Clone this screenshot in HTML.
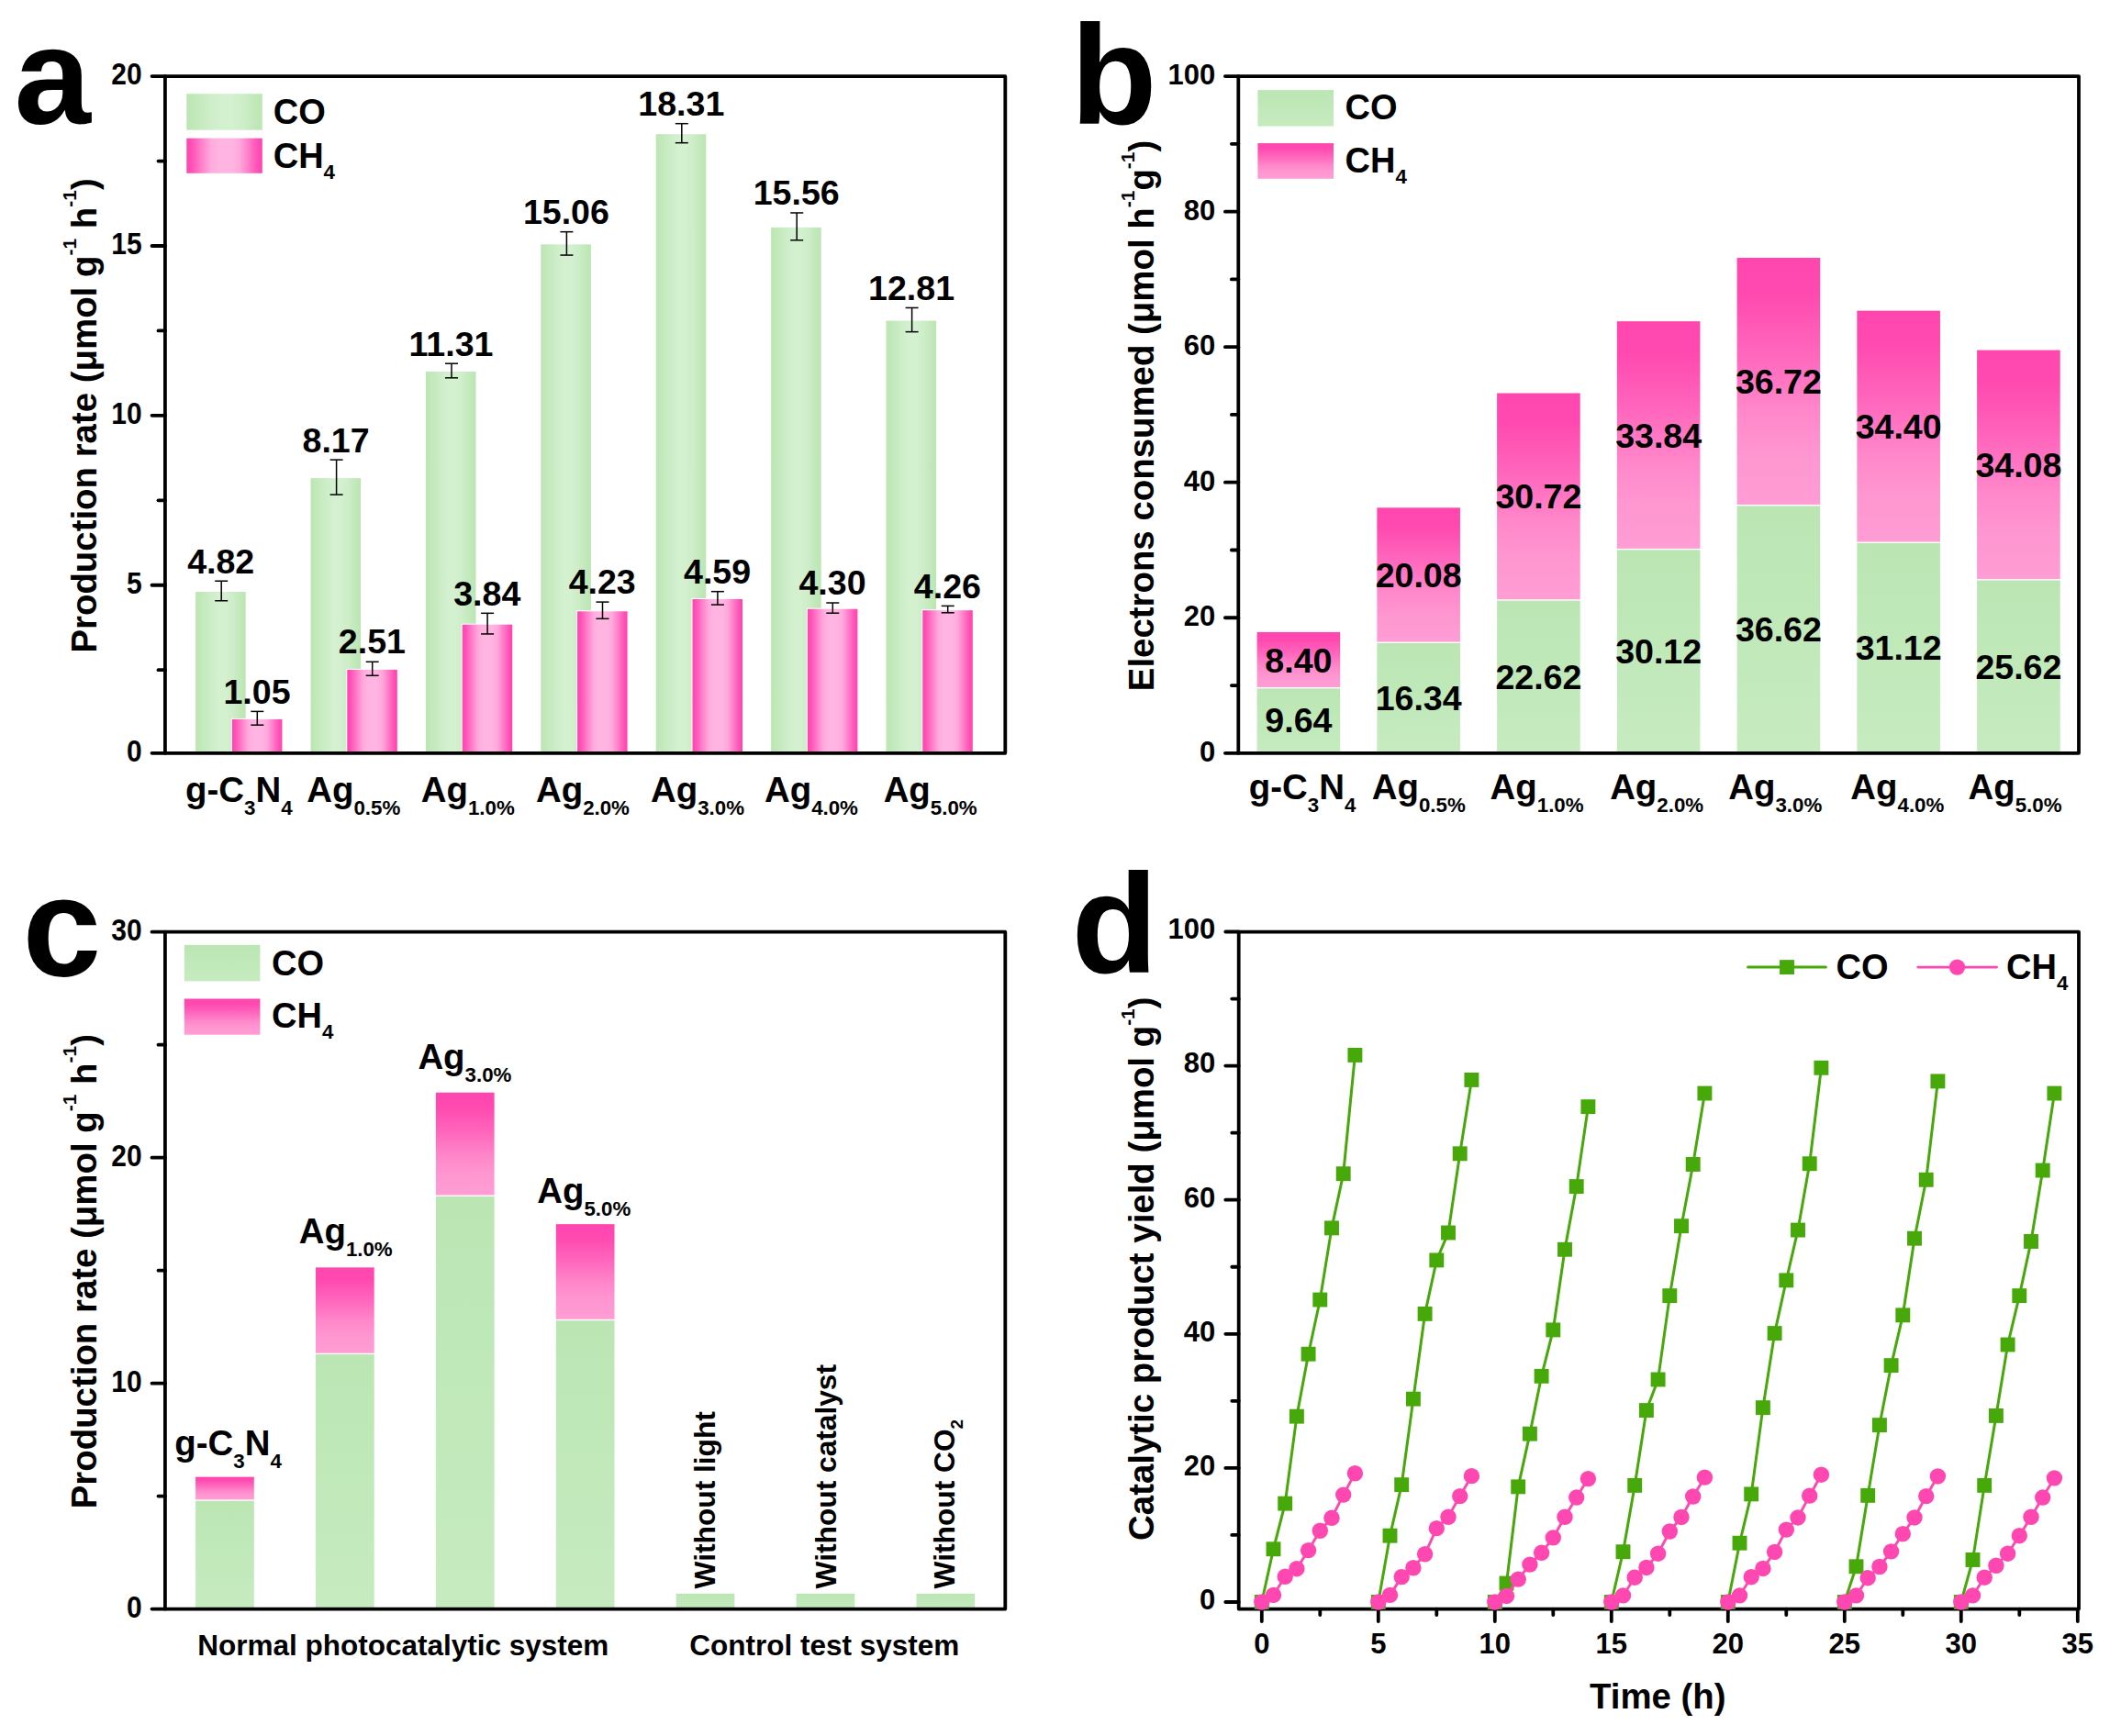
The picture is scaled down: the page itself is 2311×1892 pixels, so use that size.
<!DOCTYPE html>
<html lang="en"><head><meta charset="utf-8"><title>Photocatalytic CO2 reduction figure</title>
<style>html,body{margin:0;padding:0;background:#fff}svg{display:block}text{font-family:'Liberation Sans', Arial, Helvetica, sans-serif;font-weight:700;fill:#000}</style>
</head><body>
<svg xmlns="http://www.w3.org/2000/svg" width="2311" height="1892" viewBox="0 0 2311 1892">
<defs>
<linearGradient id="gh" x1="0" x2="1" y1="0" y2="0"><stop offset="0" stop-color="#BCE6B3"/><stop offset="0.1" stop-color="#C1E8B9"/><stop offset="0.3" stop-color="#CDEDC8"/><stop offset="0.45" stop-color="#D3F0CF"/><stop offset="0.6" stop-color="#D3F0CF"/><stop offset="0.75" stop-color="#CDEDC8"/><stop offset="0.9" stop-color="#C1E8B9"/><stop offset="1" stop-color="#BCE6B3"/></linearGradient>
<linearGradient id="ph" x1="0" x2="1" y1="0" y2="0"><stop offset="0" stop-color="#FF45B0"/><stop offset="0.06" stop-color="#FF4FB5"/><stop offset="0.32" stop-color="#FFAADD"/><stop offset="0.42" stop-color="#FFB4E2"/><stop offset="0.6" stop-color="#FFB4E2"/><stop offset="0.7" stop-color="#FFA8DC"/><stop offset="0.94" stop-color="#FF4FB5"/><stop offset="1" stop-color="#FF45B0"/></linearGradient>
<linearGradient id="pv" x1="0" x2="0" y1="0" y2="1"><stop offset="0" stop-color="#FF46AF"/><stop offset="0.14" stop-color="#FF49B0"/><stop offset="0.40" stop-color="#FF68BD"/><stop offset="0.62" stop-color="#FF87CA"/><stop offset="0.80" stop-color="#FF96D1"/><stop offset="1" stop-color="#FF9DD5"/></linearGradient>
<linearGradient id="gv" x1="0" x2="0" y1="0" y2="1"><stop offset="0" stop-color="#BBE6B3"/><stop offset="1" stop-color="#C6EBC0"/></linearGradient>
</defs>
<rect width="2311" height="1892" fill="#fff"/>
<g id="panel-a">
<rect x="213.1" y="644.98" width="54.6" height="175.82" fill="url(#gh)"/>
<rect x="338.5" y="521.11" width="54.6" height="299.69" fill="url(#gh)"/>
<rect x="463.9" y="405.01" width="54.6" height="415.79" fill="url(#gh)"/>
<rect x="589.3" y="266.36" width="54.6" height="554.44" fill="url(#gh)"/>
<rect x="714.7" y="146.19" width="54.6" height="674.61" fill="url(#gh)"/>
<rect x="840.1" y="247.87" width="54.6" height="572.93" fill="url(#gh)"/>
<rect x="965.5" y="349.55" width="54.6" height="471.25" fill="url(#gh)"/>
<rect x="252" y="782.88" width="55.4" height="37.92" fill="#fff"/>
<rect x="252.9" y="783.88" width="54.5" height="36.92" fill="url(#ph)"/>
<rect x="377.4" y="728.89" width="55.4" height="91.91" fill="#fff"/>
<rect x="378.3" y="729.89" width="54.5" height="90.91" fill="url(#ph)"/>
<rect x="502.8" y="679.72" width="55.4" height="141.08" fill="#fff"/>
<rect x="503.7" y="680.72" width="54.5" height="140.08" fill="url(#ph)"/>
<rect x="628.2" y="665.3" width="55.4" height="155.5" fill="#fff"/>
<rect x="629.1" y="666.3" width="54.5" height="154.5" fill="url(#ph)"/>
<rect x="753.6" y="651.98" width="55.4" height="168.82" fill="#fff"/>
<rect x="754.5" y="652.98" width="54.5" height="167.82" fill="url(#ph)"/>
<rect x="879" y="662.71" width="55.4" height="158.09" fill="#fff"/>
<rect x="879.9" y="663.71" width="54.5" height="157.09" fill="url(#ph)"/>
<rect x="1004.4" y="664.19" width="55.4" height="156.61" fill="#fff"/>
<rect x="1005.3" y="665.19" width="54.5" height="155.61" fill="url(#ph)"/>
<line x1="241.2" y1="633.23" x2="241.2" y2="654.73" stroke="#000" stroke-width="1.5"/>
<line x1="234.2" y1="633.23" x2="248.2" y2="633.23" stroke="#000" stroke-width="1.5"/>
<line x1="234.2" y1="654.73" x2="248.2" y2="654.73" stroke="#000" stroke-width="1.5"/>
<text x="240.7" y="624.63" font-size="37.6" text-anchor="middle">4.82</text>
<line x1="280.3" y1="775.38" x2="280.3" y2="790.18" stroke="#000" stroke-width="1.5"/>
<line x1="273.3" y1="775.38" x2="287.3" y2="775.38" stroke="#000" stroke-width="1.5"/>
<line x1="273.3" y1="790.18" x2="287.3" y2="790.18" stroke="#000" stroke-width="1.5"/>
<text x="280" y="766.58" font-size="37.6" text-anchor="middle">1.05</text>
<line x1="366.6" y1="501.11" x2="366.6" y2="539.11" stroke="#000" stroke-width="1.5"/>
<line x1="359.6" y1="501.11" x2="373.6" y2="501.11" stroke="#000" stroke-width="1.5"/>
<line x1="359.6" y1="539.11" x2="373.6" y2="539.11" stroke="#000" stroke-width="1.5"/>
<text x="366.1" y="492.51" font-size="37.6" text-anchor="middle">8.17</text>
<line x1="405.7" y1="721.29" x2="405.7" y2="736.29" stroke="#000" stroke-width="1.5"/>
<line x1="398.7" y1="721.29" x2="412.7" y2="721.29" stroke="#000" stroke-width="1.5"/>
<line x1="398.7" y1="736.29" x2="412.7" y2="736.29" stroke="#000" stroke-width="1.5"/>
<text x="405.4" y="712.49" font-size="37.6" text-anchor="middle">2.51</text>
<line x1="492" y1="396.21" x2="492" y2="411.81" stroke="#000" stroke-width="1.5"/>
<line x1="485" y1="396.21" x2="499" y2="396.21" stroke="#000" stroke-width="1.5"/>
<line x1="485" y1="411.81" x2="499" y2="411.81" stroke="#000" stroke-width="1.5"/>
<text x="491.5" y="387.61" font-size="37.6" text-anchor="middle">11.31</text>
<line x1="531.1" y1="668.32" x2="531.1" y2="690.92" stroke="#000" stroke-width="1.5"/>
<line x1="524.1" y1="668.32" x2="538.1" y2="668.32" stroke="#000" stroke-width="1.5"/>
<line x1="524.1" y1="690.92" x2="538.1" y2="690.92" stroke="#000" stroke-width="1.5"/>
<text x="530.8" y="659.52" font-size="37.6" text-anchor="middle">3.84</text>
<line x1="617.4" y1="252.66" x2="617.4" y2="278.06" stroke="#000" stroke-width="1.5"/>
<line x1="610.4" y1="252.66" x2="624.4" y2="252.66" stroke="#000" stroke-width="1.5"/>
<line x1="610.4" y1="278.06" x2="624.4" y2="278.06" stroke="#000" stroke-width="1.5"/>
<text x="616.9" y="244.06" font-size="37.6" text-anchor="middle">15.06</text>
<line x1="656.5" y1="656.1" x2="656.5" y2="674.3" stroke="#000" stroke-width="1.5"/>
<line x1="649.5" y1="656.1" x2="663.5" y2="656.1" stroke="#000" stroke-width="1.5"/>
<line x1="649.5" y1="674.3" x2="663.5" y2="674.3" stroke="#000" stroke-width="1.5"/>
<text x="656.2" y="647.3" font-size="37.6" text-anchor="middle">4.23</text>
<line x1="742.8" y1="134.69" x2="742.8" y2="155.69" stroke="#000" stroke-width="1.5"/>
<line x1="735.8" y1="134.69" x2="749.8" y2="134.69" stroke="#000" stroke-width="1.5"/>
<line x1="735.8" y1="155.69" x2="749.8" y2="155.69" stroke="#000" stroke-width="1.5"/>
<text x="742.3" y="126.09" font-size="37.6" text-anchor="middle">18.31</text>
<line x1="781.9" y1="644.68" x2="781.9" y2="659.08" stroke="#000" stroke-width="1.5"/>
<line x1="774.9" y1="644.68" x2="788.9" y2="644.68" stroke="#000" stroke-width="1.5"/>
<line x1="774.9" y1="659.08" x2="788.9" y2="659.08" stroke="#000" stroke-width="1.5"/>
<text x="781.6" y="635.88" font-size="37.6" text-anchor="middle">4.59</text>
<line x1="868.2" y1="231.97" x2="868.2" y2="261.77" stroke="#000" stroke-width="1.5"/>
<line x1="861.2" y1="231.97" x2="875.2" y2="231.97" stroke="#000" stroke-width="1.5"/>
<line x1="861.2" y1="261.77" x2="875.2" y2="261.77" stroke="#000" stroke-width="1.5"/>
<text x="867.7" y="223.37" font-size="37.6" text-anchor="middle">15.56</text>
<line x1="907.3" y1="657.01" x2="907.3" y2="668.21" stroke="#000" stroke-width="1.5"/>
<line x1="900.3" y1="657.01" x2="914.3" y2="657.01" stroke="#000" stroke-width="1.5"/>
<line x1="900.3" y1="668.21" x2="914.3" y2="668.21" stroke="#000" stroke-width="1.5"/>
<text x="907" y="648.21" font-size="37.6" text-anchor="middle">4.30</text>
<line x1="993.6" y1="335.45" x2="993.6" y2="361.65" stroke="#000" stroke-width="1.5"/>
<line x1="986.6" y1="335.45" x2="1000.6" y2="335.45" stroke="#000" stroke-width="1.5"/>
<line x1="986.6" y1="361.65" x2="1000.6" y2="361.65" stroke="#000" stroke-width="1.5"/>
<text x="993.1" y="326.85" font-size="37.6" text-anchor="middle">12.81</text>
<line x1="1032.7" y1="660.39" x2="1032.7" y2="667.79" stroke="#000" stroke-width="1.5"/>
<line x1="1025.7" y1="660.39" x2="1039.7" y2="660.39" stroke="#000" stroke-width="1.5"/>
<line x1="1025.7" y1="667.79" x2="1039.7" y2="667.79" stroke="#000" stroke-width="1.5"/>
<text x="1032.4" y="651.59" font-size="37.6" text-anchor="middle">4.26</text>
<line x1="165.5" y1="820.8" x2="179.9" y2="820.8" stroke="#000" stroke-width="3.8" stroke-linecap="round"/>
<text transform="translate(154.7 829.7) scale(1 1.09)" font-size="30" text-anchor="end">0</text>
<line x1="165.5" y1="637.73" x2="179.9" y2="637.73" stroke="#000" stroke-width="3.8" stroke-linecap="round"/>
<text transform="translate(154.7 646.62) scale(1 1.09)" font-size="30" text-anchor="end">5</text>
<line x1="165.5" y1="452.85" x2="179.9" y2="452.85" stroke="#000" stroke-width="3.8" stroke-linecap="round"/>
<text transform="translate(154.7 461.75) scale(1 1.09)" font-size="30" text-anchor="end">10</text>
<line x1="165.5" y1="267.98" x2="179.9" y2="267.98" stroke="#000" stroke-width="3.8" stroke-linecap="round"/>
<text transform="translate(154.7 276.88) scale(1 1.09)" font-size="30" text-anchor="end">15</text>
<line x1="165.5" y1="83.1" x2="179.9" y2="83.1" stroke="#000" stroke-width="3.8" stroke-linecap="round"/>
<text transform="translate(154.7 92) scale(1 1.09)" font-size="30" text-anchor="end">20</text>
<line x1="172.5" y1="730.16" x2="179.9" y2="730.16" stroke="#000" stroke-width="3.8" stroke-linecap="round"/>
<line x1="172.5" y1="545.29" x2="179.9" y2="545.29" stroke="#000" stroke-width="3.8" stroke-linecap="round"/>
<line x1="172.5" y1="360.41" x2="179.9" y2="360.41" stroke="#000" stroke-width="3.8" stroke-linecap="round"/>
<line x1="172.5" y1="175.54" x2="179.9" y2="175.54" stroke="#000" stroke-width="3.8" stroke-linecap="round"/>
<rect x="179.9" y="83.1" width="915.4" height="737.7" fill="none" stroke="#000" stroke-width="3.8" stroke-linejoin="round"/>
<text x="260.3" y="874.3" font-size="38.4" text-anchor="middle">g-C<tspan font-size="22.3" dy="14.1">3</tspan><tspan dy="-14.1">N</tspan><tspan font-size="22.3" dy="14.1">4</tspan></text>
<text x="385.25" y="874.3" font-size="38.4" text-anchor="middle">Ag<tspan font-size="22.3" dy="14.1">0.5%</tspan></text>
<text x="509.8" y="874.3" font-size="38.4" text-anchor="middle">Ag<tspan font-size="22.3" dy="14.1">1.0%</tspan></text>
<text x="634.95" y="874.3" font-size="38.4" text-anchor="middle">Ag<tspan font-size="22.3" dy="14.1">2.0%</tspan></text>
<text x="760.05" y="874.3" font-size="38.4" text-anchor="middle">Ag<tspan font-size="22.3" dy="14.1">3.0%</tspan></text>
<text x="883.95" y="874.3" font-size="38.4" text-anchor="middle">Ag<tspan font-size="22.3" dy="14.1">4.0%</tspan></text>
<text x="1013.65" y="874.3" font-size="38.4" text-anchor="middle">Ag<tspan font-size="22.3" dy="14.1">5.0%</tspan></text>
<text x="105" y="452.95" font-size="38.4" text-anchor="middle" transform="rotate(-90 105 452.95)">Production rate (μmol g<tspan font-size="21" dy="-21.5">-1</tspan><tspan dy="21.5"> h</tspan><tspan font-size="21" dy="-21.5">-1</tspan><tspan dy="21.5">)</tspan></text>
<rect x="203.3" y="102.2" width="82.5" height="39.5" fill="url(#gh)"/>
<rect x="203.3" y="150.7" width="82.5" height="38.1" fill="url(#ph)"/>
<text x="297.7" y="134.9" font-size="38" text-anchor="start">CO</text>
<text x="297.7" y="183.2" font-size="38" text-anchor="start">CH<tspan font-size="22.3" dy="12">4</tspan></text>
<text x="15.5" y="135" font-size="150" text-anchor="start">a</text>
</g>
<g id="panel-b">
<rect x="1369.6" y="750.39" width="90.6" height="70.41" fill="url(#gv)"/>
<rect x="1369.6" y="688.92" width="90.6" height="60.07" fill="url(#pv)"/>
<text x="1414.9" y="798.44" font-size="37.6" text-anchor="middle">9.64</text>
<text x="1414.9" y="732.5" font-size="37.6" text-anchor="middle">8.40</text>
<rect x="1500.35" y="700.96" width="90.6" height="119.84" fill="url(#gv)"/>
<rect x="1500.35" y="553.33" width="90.6" height="146.23" fill="url(#pv)"/>
<text x="1545.65" y="773.73" font-size="37.6" text-anchor="middle">16.34</text>
<text x="1545.65" y="639.99" font-size="37.6" text-anchor="middle">20.08</text>
<rect x="1631.1" y="654.63" width="90.6" height="166.17" fill="url(#gv)"/>
<rect x="1631.1" y="428.51" width="90.6" height="224.72" fill="url(#pv)"/>
<text x="1676.4" y="750.57" font-size="37.6" text-anchor="middle">22.62</text>
<text x="1676.4" y="554.42" font-size="37.6" text-anchor="middle">30.72</text>
<rect x="1761.85" y="599.3" width="90.6" height="221.5" fill="url(#gv)"/>
<rect x="1761.85" y="350.17" width="90.6" height="247.74" fill="url(#pv)"/>
<text x="1807.15" y="722.9" font-size="37.6" text-anchor="middle">30.12</text>
<text x="1807.15" y="487.59" font-size="37.6" text-anchor="middle">33.84</text>
<rect x="1892.6" y="551.35" width="90.6" height="269.45" fill="url(#gv)"/>
<rect x="1892.6" y="280.97" width="90.6" height="268.98" fill="url(#pv)"/>
<text x="1937.9" y="698.93" font-size="37.6" text-anchor="middle">36.62</text>
<text x="1937.9" y="429.01" font-size="37.6" text-anchor="middle">36.72</text>
<rect x="2023.35" y="591.93" width="90.6" height="228.87" fill="url(#gv)"/>
<rect x="2023.35" y="338.66" width="90.6" height="251.87" fill="url(#pv)"/>
<text x="2068.65" y="719.21" font-size="37.6" text-anchor="middle">31.12</text>
<text x="2068.65" y="478.14" font-size="37.6" text-anchor="middle">34.40</text>
<rect x="2154.1" y="632.5" width="90.6" height="188.3" fill="url(#gv)"/>
<rect x="2154.1" y="381.59" width="90.6" height="249.51" fill="url(#pv)"/>
<text x="2199.4" y="739.5" font-size="37.6" text-anchor="middle">25.62</text>
<text x="2199.4" y="519.9" font-size="37.6" text-anchor="middle">34.08</text>
<line x1="1334.9" y1="820.8" x2="1349.3" y2="820.8" stroke="#000" stroke-width="3.8" stroke-linecap="round"/>
<text transform="translate(1324.2 829.7) scale(1 1.04)" font-size="31" text-anchor="end">0</text>
<line x1="1334.9" y1="673.26" x2="1349.3" y2="673.26" stroke="#000" stroke-width="3.8" stroke-linecap="round"/>
<text transform="translate(1324.2 682.16) scale(1 1.04)" font-size="31" text-anchor="end">20</text>
<line x1="1334.9" y1="525.72" x2="1349.3" y2="525.72" stroke="#000" stroke-width="3.8" stroke-linecap="round"/>
<text transform="translate(1324.2 534.62) scale(1 1.04)" font-size="31" text-anchor="end">40</text>
<line x1="1334.9" y1="378.18" x2="1349.3" y2="378.18" stroke="#000" stroke-width="3.8" stroke-linecap="round"/>
<text transform="translate(1324.2 387.08) scale(1 1.04)" font-size="31" text-anchor="end">60</text>
<line x1="1334.9" y1="230.64" x2="1349.3" y2="230.64" stroke="#000" stroke-width="3.8" stroke-linecap="round"/>
<text transform="translate(1324.2 239.54) scale(1 1.04)" font-size="31" text-anchor="end">80</text>
<line x1="1334.9" y1="83.1" x2="1349.3" y2="83.1" stroke="#000" stroke-width="3.8" stroke-linecap="round"/>
<text transform="translate(1324.2 92) scale(1 1.04)" font-size="31" text-anchor="end">100</text>
<line x1="1341.9" y1="747.03" x2="1349.3" y2="747.03" stroke="#000" stroke-width="3.8" stroke-linecap="round"/>
<line x1="1341.9" y1="599.49" x2="1349.3" y2="599.49" stroke="#000" stroke-width="3.8" stroke-linecap="round"/>
<line x1="1341.9" y1="451.95" x2="1349.3" y2="451.95" stroke="#000" stroke-width="3.8" stroke-linecap="round"/>
<line x1="1341.9" y1="304.41" x2="1349.3" y2="304.41" stroke="#000" stroke-width="3.8" stroke-linecap="round"/>
<line x1="1341.9" y1="156.87" x2="1349.3" y2="156.87" stroke="#000" stroke-width="3.8" stroke-linecap="round"/>
<rect x="1349.3" y="83.1" width="915.7" height="737.7" fill="none" stroke="#000" stroke-width="3.8" stroke-linejoin="round"/>
<text x="1419.1" y="871.2" font-size="38.4" text-anchor="middle">g-C<tspan font-size="22.3" dy="14.1">3</tspan><tspan dy="-14.1">N</tspan><tspan font-size="22.3" dy="14.1">4</tspan></text>
<text x="1545.8" y="871.2" font-size="38.4" text-anchor="middle">Ag<tspan font-size="22.3" dy="14.1">0.5%</tspan></text>
<text x="1674.6" y="871.2" font-size="38.4" text-anchor="middle">Ag<tspan font-size="22.3" dy="14.1">1.0%</tspan></text>
<text x="1805.15" y="871.2" font-size="38.4" text-anchor="middle">Ag<tspan font-size="22.3" dy="14.1">2.0%</tspan></text>
<text x="1934.3" y="871.2" font-size="38.4" text-anchor="middle">Ag<tspan font-size="22.3" dy="14.1">3.0%</tspan></text>
<text x="2067.35" y="871.2" font-size="38.4" text-anchor="middle">Ag<tspan font-size="22.3" dy="14.1">4.0%</tspan></text>
<text x="2195.5" y="871.2" font-size="38.4" text-anchor="middle">Ag<tspan font-size="22.3" dy="14.1">5.0%</tspan></text>
<text x="1257.5" y="452.95" font-size="38.4" text-anchor="middle" transform="rotate(-90 1257.5 452.95)">Electrons consumed (μmol h<tspan font-size="21" dy="-21.5">-1</tspan><tspan dy="21.5">g</tspan><tspan font-size="21" dy="-21.5">-1</tspan><tspan dy="21.5">)</tspan></text>
<rect x="1370.4" y="98.1" width="82.6" height="39.5" fill="url(#gv)"/>
<rect x="1370.4" y="156.1" width="82.6" height="38.7" fill="url(#pv)"/>
<text x="1465.5" y="130.2" font-size="38" text-anchor="start">CO</text>
<text x="1465.5" y="188" font-size="38" text-anchor="start">CH<tspan font-size="22.3" dy="12">4</tspan></text>
<text x="1166.5" y="135" font-size="154" text-anchor="start">b</text>
</g>
<g id="panel-c">
<rect x="213.1" y="1635.74" width="63.7" height="117.86" fill="url(#gv)"/>
<rect x="213.1" y="1609.62" width="63.7" height="24.73" fill="url(#pv)"/>
<rect x="344" y="1476.11" width="63.7" height="277.49" fill="url(#gv)"/>
<rect x="344" y="1381.36" width="63.7" height="93.35" fill="url(#pv)"/>
<rect x="474.9" y="1303.94" width="63.7" height="449.66" fill="url(#gv)"/>
<rect x="474.9" y="1190.74" width="63.7" height="111.8" fill="url(#pv)"/>
<rect x="605.8" y="1439.22" width="63.7" height="314.38" fill="url(#gv)"/>
<rect x="605.8" y="1334.13" width="63.7" height="103.68" fill="url(#pv)"/>
<rect x="736.7" y="1736.87" width="63.7" height="16.73" fill="url(#gv)"/>
<rect x="867.6" y="1736.87" width="63.7" height="16.73" fill="url(#gv)"/>
<rect x="998.5" y="1736.87" width="63.7" height="16.73" fill="url(#gv)"/>
<line x1="165.5" y1="1753.6" x2="179.9" y2="1753.6" stroke="#000" stroke-width="3.8" stroke-linecap="round"/>
<text transform="translate(154.7 1762.5) scale(1 1.09)" font-size="30" text-anchor="end">0</text>
<line x1="165.5" y1="1507.63" x2="179.9" y2="1507.63" stroke="#000" stroke-width="3.8" stroke-linecap="round"/>
<text transform="translate(154.7 1516.53) scale(1 1.09)" font-size="30" text-anchor="end">10</text>
<line x1="165.5" y1="1261.67" x2="179.9" y2="1261.67" stroke="#000" stroke-width="3.8" stroke-linecap="round"/>
<text transform="translate(154.7 1270.57) scale(1 1.09)" font-size="30" text-anchor="end">20</text>
<line x1="165.5" y1="1015.7" x2="179.9" y2="1015.7" stroke="#000" stroke-width="3.8" stroke-linecap="round"/>
<text transform="translate(154.7 1024.6) scale(1 1.09)" font-size="30" text-anchor="end">30</text>
<line x1="172.5" y1="1630.62" x2="179.9" y2="1630.62" stroke="#000" stroke-width="3.8" stroke-linecap="round"/>
<line x1="172.5" y1="1384.65" x2="179.9" y2="1384.65" stroke="#000" stroke-width="3.8" stroke-linecap="round"/>
<line x1="172.5" y1="1138.68" x2="179.9" y2="1138.68" stroke="#000" stroke-width="3.8" stroke-linecap="round"/>
<rect x="179.9" y="1015.7" width="915.4" height="737.9" fill="none" stroke="#000" stroke-width="3.8" stroke-linejoin="round"/>
<text x="248.6" y="1586.2" font-size="38.4" text-anchor="middle">g-C<tspan font-size="22.3" dy="14.1">3</tspan><tspan dy="-14.1">N</tspan><tspan font-size="22.3" dy="14.1">4</tspan></text>
<text x="376.7" y="1354.7" font-size="38.4" text-anchor="middle">Ag<tspan font-size="22.3" dy="14.1">1.0%</tspan></text>
<text x="506.4" y="1164.8" font-size="38.4" text-anchor="middle">Ag<tspan font-size="22.3" dy="14.1">3.0%</tspan></text>
<text x="636.3" y="1311" font-size="38.4" text-anchor="middle">Ag<tspan font-size="22.3" dy="14.1">5.0%</tspan></text>
<text x="779" y="1731.4" font-size="31.7" text-anchor="start" transform="rotate(-90 779 1731.4)">Without light</text>
<text x="911" y="1731.4" font-size="31.7" text-anchor="start" transform="rotate(-90 911 1731.4)">Without catalyst</text>
<text x="1040.4" y="1731.4" font-size="31.7" text-anchor="start" transform="rotate(-90 1040.4 1731.4)">Without CO<tspan font-size="19" dy="9">2</tspan></text>
<text x="215.2" y="1804" font-size="31.5" text-anchor="start">Normal photocatalytic system</text>
<text x="751.3" y="1803.9" font-size="31.5" text-anchor="start">Control test system</text>
<text x="105" y="1385.65" font-size="38.4" text-anchor="middle" transform="rotate(-90 105 1385.65)">Production rate (μmol g<tspan font-size="21" dy="-21.5">-1</tspan><tspan dy="21.5"> h</tspan><tspan font-size="21" dy="-21.5">-1</tspan><tspan dy="21.5">)</tspan></text>
<rect x="200.8" y="1029.9" width="82.6" height="39.5" fill="url(#gv)"/>
<rect x="200.8" y="1088.5" width="82.6" height="39.2" fill="url(#pv)"/>
<text x="296" y="1062.6" font-size="38" text-anchor="start">CO</text>
<text x="296" y="1120.4" font-size="38" text-anchor="start">CH<tspan font-size="22.3" dy="12">4</tspan></text>
<text x="24.5" y="1064" font-size="154" text-anchor="start">c</text>
</g>
<g id="panel-d">
<line x1="1335.3" y1="1746" x2="1349.7" y2="1746" stroke="#000" stroke-width="3.8" stroke-linecap="round"/>
<text transform="translate(1324.2 1753.8) scale(1 1.04)" font-size="31" text-anchor="end">0</text>
<line x1="1335.3" y1="1599.9" x2="1349.7" y2="1599.9" stroke="#000" stroke-width="3.8" stroke-linecap="round"/>
<text transform="translate(1324.2 1607.7) scale(1 1.04)" font-size="31" text-anchor="end">20</text>
<line x1="1335.3" y1="1453.8" x2="1349.7" y2="1453.8" stroke="#000" stroke-width="3.8" stroke-linecap="round"/>
<text transform="translate(1324.2 1461.6) scale(1 1.04)" font-size="31" text-anchor="end">40</text>
<line x1="1335.3" y1="1307.7" x2="1349.7" y2="1307.7" stroke="#000" stroke-width="3.8" stroke-linecap="round"/>
<text transform="translate(1324.2 1315.5) scale(1 1.04)" font-size="31" text-anchor="end">60</text>
<line x1="1335.3" y1="1161.6" x2="1349.7" y2="1161.6" stroke="#000" stroke-width="3.8" stroke-linecap="round"/>
<text transform="translate(1324.2 1169.4) scale(1 1.04)" font-size="31" text-anchor="end">80</text>
<line x1="1335.3" y1="1015.5" x2="1349.7" y2="1015.5" stroke="#000" stroke-width="3.8" stroke-linecap="round"/>
<text transform="translate(1324.2 1023.3) scale(1 1.04)" font-size="31" text-anchor="end">100</text>
<line x1="1342.3" y1="1672.95" x2="1349.7" y2="1672.95" stroke="#000" stroke-width="3.8" stroke-linecap="round"/>
<line x1="1342.3" y1="1526.85" x2="1349.7" y2="1526.85" stroke="#000" stroke-width="3.8" stroke-linecap="round"/>
<line x1="1342.3" y1="1380.75" x2="1349.7" y2="1380.75" stroke="#000" stroke-width="3.8" stroke-linecap="round"/>
<line x1="1342.3" y1="1234.65" x2="1349.7" y2="1234.65" stroke="#000" stroke-width="3.8" stroke-linecap="round"/>
<line x1="1342.3" y1="1088.55" x2="1349.7" y2="1088.55" stroke="#000" stroke-width="3.8" stroke-linecap="round"/>
<line x1="1374.8" y1="1753.6" x2="1374.8" y2="1767.1" stroke="#000" stroke-width="3.8" stroke-linecap="round"/>
<text transform="translate(1374.8 1801.6) scale(1 1.04)" font-size="31" text-anchor="middle">0</text>
<line x1="1501.8" y1="1753.6" x2="1501.8" y2="1767.1" stroke="#000" stroke-width="3.8" stroke-linecap="round"/>
<text transform="translate(1501.8 1801.6) scale(1 1.04)" font-size="31" text-anchor="middle">5</text>
<line x1="1628.8" y1="1753.6" x2="1628.8" y2="1767.1" stroke="#000" stroke-width="3.8" stroke-linecap="round"/>
<text transform="translate(1628.8 1801.6) scale(1 1.04)" font-size="31" text-anchor="middle">10</text>
<line x1="1755.8" y1="1753.6" x2="1755.8" y2="1767.1" stroke="#000" stroke-width="3.8" stroke-linecap="round"/>
<text transform="translate(1755.8 1801.6) scale(1 1.04)" font-size="31" text-anchor="middle">15</text>
<line x1="1882.8" y1="1753.6" x2="1882.8" y2="1767.1" stroke="#000" stroke-width="3.8" stroke-linecap="round"/>
<text transform="translate(1882.8 1801.6) scale(1 1.04)" font-size="31" text-anchor="middle">20</text>
<line x1="2009.8" y1="1753.6" x2="2009.8" y2="1767.1" stroke="#000" stroke-width="3.8" stroke-linecap="round"/>
<text transform="translate(2009.8 1801.6) scale(1 1.04)" font-size="31" text-anchor="middle">25</text>
<line x1="2136.8" y1="1753.6" x2="2136.8" y2="1767.1" stroke="#000" stroke-width="3.8" stroke-linecap="round"/>
<text transform="translate(2136.8 1801.6) scale(1 1.04)" font-size="31" text-anchor="middle">30</text>
<line x1="2263.8" y1="1753.6" x2="2263.8" y2="1767.1" stroke="#000" stroke-width="3.8" stroke-linecap="round"/>
<text transform="translate(2263.8 1801.6) scale(1 1.04)" font-size="31" text-anchor="middle">35</text>
<line x1="1438.3" y1="1753.6" x2="1438.3" y2="1760.1" stroke="#000" stroke-width="3.8" stroke-linecap="round"/>
<line x1="1565.3" y1="1753.6" x2="1565.3" y2="1760.1" stroke="#000" stroke-width="3.8" stroke-linecap="round"/>
<line x1="1692.3" y1="1753.6" x2="1692.3" y2="1760.1" stroke="#000" stroke-width="3.8" stroke-linecap="round"/>
<line x1="1819.3" y1="1753.6" x2="1819.3" y2="1760.1" stroke="#000" stroke-width="3.8" stroke-linecap="round"/>
<line x1="1946.3" y1="1753.6" x2="1946.3" y2="1760.1" stroke="#000" stroke-width="3.8" stroke-linecap="round"/>
<line x1="2073.3" y1="1753.6" x2="2073.3" y2="1760.1" stroke="#000" stroke-width="3.8" stroke-linecap="round"/>
<line x1="2200.3" y1="1753.6" x2="2200.3" y2="1760.1" stroke="#000" stroke-width="3.8" stroke-linecap="round"/>
<rect x="1349.7" y="1015.7" width="915.3" height="737.9" fill="none" stroke="#000" stroke-width="3.8" stroke-linejoin="round"/>
<polyline fill="none" stroke="#47A80A" stroke-width="3" points="1374.8,1746 1387.5,1688.29 1400.2,1638.62 1412.9,1543.65 1425.6,1475.72 1438.3,1416.54 1451,1338.38 1463.7,1279.21 1476.4,1149.91"/>
<rect x="1366.85" y="1738.05" width="15.9" height="15.9" fill="#47A80A"/>
<rect x="1379.55" y="1680.34" width="15.9" height="15.9" fill="#47A80A"/>
<rect x="1392.25" y="1630.67" width="15.9" height="15.9" fill="#47A80A"/>
<rect x="1404.95" y="1535.7" width="15.9" height="15.9" fill="#47A80A"/>
<rect x="1417.65" y="1467.77" width="15.9" height="15.9" fill="#47A80A"/>
<rect x="1430.35" y="1408.59" width="15.9" height="15.9" fill="#47A80A"/>
<rect x="1443.05" y="1330.43" width="15.9" height="15.9" fill="#47A80A"/>
<rect x="1455.75" y="1271.26" width="15.9" height="15.9" fill="#47A80A"/>
<rect x="1468.45" y="1141.96" width="15.9" height="15.9" fill="#47A80A"/>
<polyline fill="none" stroke="#47A80A" stroke-width="3" points="1501.8,1746 1514.5,1673.68 1527.2,1618.16 1539.9,1524.66 1552.6,1431.88 1565.3,1373.44 1578,1343.49 1590.7,1257.3 1603.4,1176.94"/>
<rect x="1493.85" y="1738.05" width="15.9" height="15.9" fill="#47A80A"/>
<rect x="1506.55" y="1665.73" width="15.9" height="15.9" fill="#47A80A"/>
<rect x="1519.25" y="1610.21" width="15.9" height="15.9" fill="#47A80A"/>
<rect x="1531.95" y="1516.71" width="15.9" height="15.9" fill="#47A80A"/>
<rect x="1544.65" y="1423.93" width="15.9" height="15.9" fill="#47A80A"/>
<rect x="1557.35" y="1365.49" width="15.9" height="15.9" fill="#47A80A"/>
<rect x="1570.05" y="1335.54" width="15.9" height="15.9" fill="#47A80A"/>
<rect x="1582.75" y="1249.35" width="15.9" height="15.9" fill="#47A80A"/>
<rect x="1595.45" y="1168.99" width="15.9" height="15.9" fill="#47A80A"/>
<polyline fill="none" stroke="#47A80A" stroke-width="3" points="1628.8,1746 1641.5,1725.55 1654.2,1620.35 1666.9,1562.64 1679.6,1499.82 1692.3,1449.42 1705,1361.76 1717.7,1293.09 1730.4,1206.16"/>
<rect x="1620.85" y="1738.05" width="15.9" height="15.9" fill="#47A80A"/>
<rect x="1633.55" y="1717.6" width="15.9" height="15.9" fill="#47A80A"/>
<rect x="1646.25" y="1612.4" width="15.9" height="15.9" fill="#47A80A"/>
<rect x="1658.95" y="1554.69" width="15.9" height="15.9" fill="#47A80A"/>
<rect x="1671.65" y="1491.87" width="15.9" height="15.9" fill="#47A80A"/>
<rect x="1684.35" y="1441.47" width="15.9" height="15.9" fill="#47A80A"/>
<rect x="1697.05" y="1353.81" width="15.9" height="15.9" fill="#47A80A"/>
<rect x="1709.75" y="1285.14" width="15.9" height="15.9" fill="#47A80A"/>
<rect x="1722.45" y="1198.21" width="15.9" height="15.9" fill="#47A80A"/>
<polyline fill="none" stroke="#47A80A" stroke-width="3" points="1755.8,1746 1768.5,1691.21 1781.2,1618.89 1793.9,1537.08 1806.6,1503.47 1819.3,1412.16 1832,1336.19 1844.7,1268.98 1857.4,1191.55"/>
<rect x="1747.85" y="1738.05" width="15.9" height="15.9" fill="#47A80A"/>
<rect x="1760.55" y="1683.26" width="15.9" height="15.9" fill="#47A80A"/>
<rect x="1773.25" y="1610.94" width="15.9" height="15.9" fill="#47A80A"/>
<rect x="1785.95" y="1529.13" width="15.9" height="15.9" fill="#47A80A"/>
<rect x="1798.65" y="1495.52" width="15.9" height="15.9" fill="#47A80A"/>
<rect x="1811.35" y="1404.21" width="15.9" height="15.9" fill="#47A80A"/>
<rect x="1824.05" y="1328.24" width="15.9" height="15.9" fill="#47A80A"/>
<rect x="1836.75" y="1261.03" width="15.9" height="15.9" fill="#47A80A"/>
<rect x="1849.45" y="1183.6" width="15.9" height="15.9" fill="#47A80A"/>
<polyline fill="none" stroke="#47A80A" stroke-width="3" points="1882.8,1746 1895.5,1681.72 1908.2,1628.39 1920.9,1534.15 1933.6,1453.07 1946.3,1395.36 1959,1340.57 1971.7,1268.25 1984.4,1163.79"/>
<rect x="1874.85" y="1738.05" width="15.9" height="15.9" fill="#47A80A"/>
<rect x="1887.55" y="1673.77" width="15.9" height="15.9" fill="#47A80A"/>
<rect x="1900.25" y="1620.44" width="15.9" height="15.9" fill="#47A80A"/>
<rect x="1912.95" y="1526.2" width="15.9" height="15.9" fill="#47A80A"/>
<rect x="1925.65" y="1445.12" width="15.9" height="15.9" fill="#47A80A"/>
<rect x="1938.35" y="1387.41" width="15.9" height="15.9" fill="#47A80A"/>
<rect x="1951.05" y="1332.62" width="15.9" height="15.9" fill="#47A80A"/>
<rect x="1963.75" y="1260.3" width="15.9" height="15.9" fill="#47A80A"/>
<rect x="1976.45" y="1155.84" width="15.9" height="15.9" fill="#47A80A"/>
<polyline fill="none" stroke="#47A80A" stroke-width="3" points="2009.8,1746 2022.5,1707.28 2035.2,1629.85 2047.9,1553.15 2060.6,1488.13 2073.3,1433.35 2086,1349.7 2098.7,1285.79 2111.4,1178.4"/>
<rect x="2001.85" y="1738.05" width="15.9" height="15.9" fill="#47A80A"/>
<rect x="2014.55" y="1699.33" width="15.9" height="15.9" fill="#47A80A"/>
<rect x="2027.25" y="1621.9" width="15.9" height="15.9" fill="#47A80A"/>
<rect x="2039.95" y="1545.2" width="15.9" height="15.9" fill="#47A80A"/>
<rect x="2052.65" y="1480.18" width="15.9" height="15.9" fill="#47A80A"/>
<rect x="2065.35" y="1425.4" width="15.9" height="15.9" fill="#47A80A"/>
<rect x="2078.05" y="1341.75" width="15.9" height="15.9" fill="#47A80A"/>
<rect x="2090.75" y="1277.84" width="15.9" height="15.9" fill="#47A80A"/>
<rect x="2103.45" y="1170.45" width="15.9" height="15.9" fill="#47A80A"/>
<polyline fill="none" stroke="#47A80A" stroke-width="3" points="2136.8,1746 2149.5,1699.98 2162.2,1618.89 2174.9,1542.92 2187.6,1465.49 2200.3,1412.16 2213,1352.99 2225.7,1275.56 2238.4,1191.55"/>
<rect x="2128.85" y="1738.05" width="15.9" height="15.9" fill="#47A80A"/>
<rect x="2141.55" y="1692.03" width="15.9" height="15.9" fill="#47A80A"/>
<rect x="2154.25" y="1610.94" width="15.9" height="15.9" fill="#47A80A"/>
<rect x="2166.95" y="1534.97" width="15.9" height="15.9" fill="#47A80A"/>
<rect x="2179.65" y="1457.54" width="15.9" height="15.9" fill="#47A80A"/>
<rect x="2192.35" y="1404.21" width="15.9" height="15.9" fill="#47A80A"/>
<rect x="2205.05" y="1345.04" width="15.9" height="15.9" fill="#47A80A"/>
<rect x="2217.75" y="1267.61" width="15.9" height="15.9" fill="#47A80A"/>
<rect x="2230.45" y="1183.6" width="15.9" height="15.9" fill="#47A80A"/>
<polyline fill="none" stroke="#FF47B1" stroke-width="2.9" points="1374.8,1746 1387.5,1738.4 1400.2,1718.31 1412.9,1709.69 1425.6,1689.61 1438.3,1668.27 1451,1654.32 1463.7,1629.12 1476.4,1605.74"/>
<circle cx="1374.8" cy="1746" r="8.7" fill="#FF47B1"/>
<circle cx="1387.5" cy="1738.4" r="8.7" fill="#FF47B1"/>
<circle cx="1400.2" cy="1718.31" r="8.7" fill="#FF47B1"/>
<circle cx="1412.9" cy="1709.69" r="8.7" fill="#FF47B1"/>
<circle cx="1425.6" cy="1689.61" r="8.7" fill="#FF47B1"/>
<circle cx="1438.3" cy="1668.27" r="8.7" fill="#FF47B1"/>
<circle cx="1451" cy="1654.32" r="8.7" fill="#FF47B1"/>
<circle cx="1463.7" cy="1629.12" r="8.7" fill="#FF47B1"/>
<circle cx="1476.4" cy="1605.74" r="8.7" fill="#FF47B1"/>
<polyline fill="none" stroke="#FF47B1" stroke-width="2.9" points="1501.8,1746 1514.5,1738.4 1527.2,1718.61 1539.9,1708.74 1552.6,1693.77 1565.3,1665.64 1578,1653.23 1590.7,1630.58 1603.4,1608.67"/>
<circle cx="1501.8" cy="1746" r="8.7" fill="#FF47B1"/>
<circle cx="1514.5" cy="1738.4" r="8.7" fill="#FF47B1"/>
<circle cx="1527.2" cy="1718.61" r="8.7" fill="#FF47B1"/>
<circle cx="1539.9" cy="1708.74" r="8.7" fill="#FF47B1"/>
<circle cx="1552.6" cy="1693.77" r="8.7" fill="#FF47B1"/>
<circle cx="1565.3" cy="1665.64" r="8.7" fill="#FF47B1"/>
<circle cx="1578" cy="1653.23" r="8.7" fill="#FF47B1"/>
<circle cx="1590.7" cy="1630.58" r="8.7" fill="#FF47B1"/>
<circle cx="1603.4" cy="1608.67" r="8.7" fill="#FF47B1"/>
<polyline fill="none" stroke="#FF47B1" stroke-width="2.9" points="1628.8,1746 1641.5,1739.43 1654.2,1721.16 1666.9,1705.09 1679.6,1692.31 1692.3,1675.87 1705,1653.23 1717.7,1632.04 1730.4,1611.59"/>
<circle cx="1628.8" cy="1746" r="8.7" fill="#FF47B1"/>
<circle cx="1641.5" cy="1739.43" r="8.7" fill="#FF47B1"/>
<circle cx="1654.2" cy="1721.16" r="8.7" fill="#FF47B1"/>
<circle cx="1666.9" cy="1705.09" r="8.7" fill="#FF47B1"/>
<circle cx="1679.6" cy="1692.31" r="8.7" fill="#FF47B1"/>
<circle cx="1692.3" cy="1675.87" r="8.7" fill="#FF47B1"/>
<circle cx="1705" cy="1653.23" r="8.7" fill="#FF47B1"/>
<circle cx="1717.7" cy="1632.04" r="8.7" fill="#FF47B1"/>
<circle cx="1730.4" cy="1611.59" r="8.7" fill="#FF47B1"/>
<polyline fill="none" stroke="#FF47B1" stroke-width="2.9" points="1755.8,1746 1768.5,1738.91 1781.2,1719.19 1793.9,1708.45 1806.6,1693.18 1819.3,1669.01 1832,1653.45 1844.7,1631.02 1857.4,1610.13"/>
<circle cx="1755.8" cy="1746" r="8.7" fill="#FF47B1"/>
<circle cx="1768.5" cy="1738.91" r="8.7" fill="#FF47B1"/>
<circle cx="1781.2" cy="1719.19" r="8.7" fill="#FF47B1"/>
<circle cx="1793.9" cy="1708.45" r="8.7" fill="#FF47B1"/>
<circle cx="1806.6" cy="1693.18" r="8.7" fill="#FF47B1"/>
<circle cx="1819.3" cy="1669.01" r="8.7" fill="#FF47B1"/>
<circle cx="1832" cy="1653.45" r="8.7" fill="#FF47B1"/>
<circle cx="1844.7" cy="1631.02" r="8.7" fill="#FF47B1"/>
<circle cx="1857.4" cy="1610.13" r="8.7" fill="#FF47B1"/>
<polyline fill="none" stroke="#FF47B1" stroke-width="2.9" points="1882.8,1746 1895.5,1738.91 1908.2,1718.68 1920.9,1709.47 1933.6,1691.43 1946.3,1667.11 1959,1653.96 1971.7,1630.14 1984.4,1607.2"/>
<circle cx="1882.8" cy="1746" r="8.7" fill="#FF47B1"/>
<circle cx="1895.5" cy="1738.91" r="8.7" fill="#FF47B1"/>
<circle cx="1908.2" cy="1718.68" r="8.7" fill="#FF47B1"/>
<circle cx="1920.9" cy="1709.47" r="8.7" fill="#FF47B1"/>
<circle cx="1933.6" cy="1691.43" r="8.7" fill="#FF47B1"/>
<circle cx="1946.3" cy="1667.11" r="8.7" fill="#FF47B1"/>
<circle cx="1959" cy="1653.96" r="8.7" fill="#FF47B1"/>
<circle cx="1971.7" cy="1630.14" r="8.7" fill="#FF47B1"/>
<circle cx="1984.4" cy="1607.2" r="8.7" fill="#FF47B1"/>
<polyline fill="none" stroke="#FF47B1" stroke-width="2.9" points="2009.8,1746 2022.5,1738.91 2035.2,1719.7 2047.9,1707.5 2060.6,1690.85 2073.3,1671.71 2086,1653.96 2098.7,1630.58 2111.4,1608.96"/>
<circle cx="2009.8" cy="1746" r="8.7" fill="#FF47B1"/>
<circle cx="2022.5" cy="1738.91" r="8.7" fill="#FF47B1"/>
<circle cx="2035.2" cy="1719.7" r="8.7" fill="#FF47B1"/>
<circle cx="2047.9" cy="1707.5" r="8.7" fill="#FF47B1"/>
<circle cx="2060.6" cy="1690.85" r="8.7" fill="#FF47B1"/>
<circle cx="2073.3" cy="1671.71" r="8.7" fill="#FF47B1"/>
<circle cx="2086" cy="1653.96" r="8.7" fill="#FF47B1"/>
<circle cx="2098.7" cy="1630.58" r="8.7" fill="#FF47B1"/>
<circle cx="2111.4" cy="1608.96" r="8.7" fill="#FF47B1"/>
<polyline fill="none" stroke="#FF47B1" stroke-width="2.9" points="2136.8,1746 2149.5,1738.91 2162.2,1719.19 2174.9,1706.26 2187.6,1693.18 2200.3,1673.68 2213,1653.23 2225.7,1632.04 2238.4,1610.86"/>
<circle cx="2136.8" cy="1746" r="8.7" fill="#FF47B1"/>
<circle cx="2149.5" cy="1738.91" r="8.7" fill="#FF47B1"/>
<circle cx="2162.2" cy="1719.19" r="8.7" fill="#FF47B1"/>
<circle cx="2174.9" cy="1706.26" r="8.7" fill="#FF47B1"/>
<circle cx="2187.6" cy="1693.18" r="8.7" fill="#FF47B1"/>
<circle cx="2200.3" cy="1673.68" r="8.7" fill="#FF47B1"/>
<circle cx="2213" cy="1653.23" r="8.7" fill="#FF47B1"/>
<circle cx="2225.7" cy="1632.04" r="8.7" fill="#FF47B1"/>
<circle cx="2238.4" cy="1610.86" r="8.7" fill="#FF47B1"/>
<text x="1257.5" y="1382.65" font-size="38.4" text-anchor="middle" transform="rotate(-90 1257.5 1382.65)">Catalytic product yield (μmol g<tspan font-size="21" dy="-21.5">-1</tspan><tspan dy="21.5">)</tspan></text>
<text x="1806.3" y="1862" font-size="38.4" text-anchor="middle">Time (h)</text>
<line x1="1904.6" y1="1054.1" x2="1989.4" y2="1054.1" stroke="#47A80A" stroke-width="3" stroke-linecap="round"/>
<rect x="1939.05" y="1046.15" width="15.9" height="15.9" fill="#47A80A"/>
<text x="2000.5" y="1066.7" font-size="38" text-anchor="start">CO</text>
<line x1="2089.9" y1="1054.1" x2="2175.5" y2="1054.1" stroke="#FF47B1" stroke-width="2.9" stroke-linecap="round"/>
<circle cx="2132.5" cy="1054.1" r="8.7" fill="#FF47B1"/>
<text x="2186" y="1066.7" font-size="38" text-anchor="start">CH<tspan font-size="22.3" dy="12">4</tspan></text>
<text x="1167.5" y="1059.5" font-size="154" text-anchor="start">d</text>
</g>
</svg>
</body></html>
